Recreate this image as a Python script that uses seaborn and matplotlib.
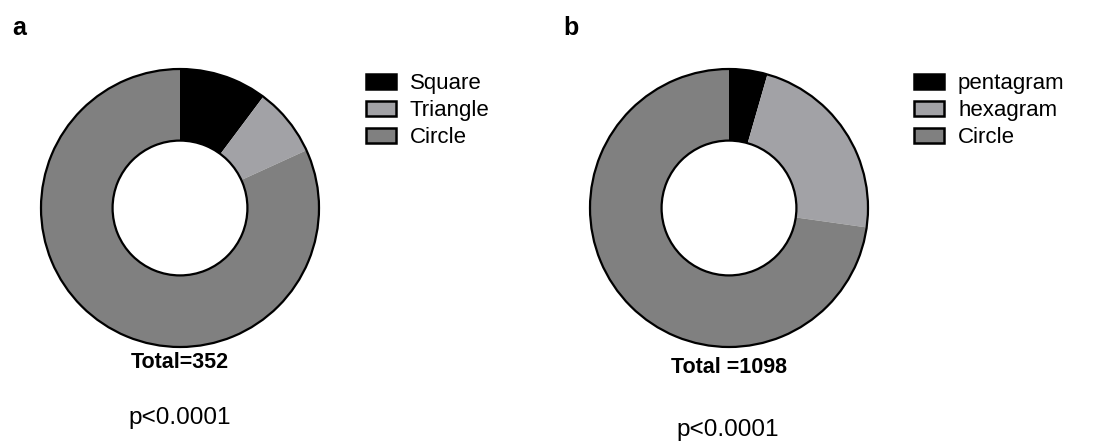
import matplotlib
matplotlib.use("Agg")
import matplotlib.pyplot as plt
from matplotlib.patches import Patch
import seaborn as sns

sns.set_theme(style="white")
plt.rcParams['font.family'] = ['Liberation Sans', 'DejaVu Sans']
plt.rcParams['text.color'] = 'black'

# ---- data ----
labels_a = ["Square", "Triangle", "Circle"]
values_a = [36, 28, 288]
labels_b = ["pentagram", "hexagram", "Circle"]
values_b = [49, 250, 799]
colors = ["#000000", "#a2a2a6", "#808080"]
total_a_text = "Total=352"
total_b_text = "Total =1098"
p_text = "p<0.0001"

W, H = 1093, 444
fig = plt.figure(figsize=(W / 100, H / 100), dpi=100)

R = 139.0
LIM = 1.03
INNER = 0.485


def donut(cx, cy, values, labels, leg_x, leg_y):
    half = R * LIM
    ax = fig.add_axes([(cx - half) / W, (H - cy - half) / H, 2 * half / W, 2 * half / H])
    ax.pie(values, colors=colors, startangle=90, counterclock=False,
           wedgeprops=dict(width=1 - INNER, edgecolor='none', linewidth=0))
    ax.pie([1], colors=['none'], startangle=90, counterclock=False,
           wedgeprops=dict(width=1 - INNER, facecolor='none', edgecolor='black', linewidth=1.6))
    ax.set_xlim(-LIM, LIM)
    ax.set_ylim(-LIM, LIM)
    ax.set_aspect('equal')
    ax.axis('off')
    handles = [Patch(facecolor=c, edgecolor='black', linewidth=1.8) for c in colors]
    leg = fig.legend(handles, labels, loc='upper left', bbox_to_anchor=(leg_x / W, 1 - leg_y / H),
                     frameon=False, fontsize=16, borderpad=0, borderaxespad=0,
                     handlelength=1.36, handleheight=0.68, handletextpad=0.62, labelspacing=0.27)
    for t in leg.get_texts():
        t.set_color('black')
    return ax


donut(180, 208, values_a, labels_a, 366, 73)
donut(729, 208, values_b, labels_b, 914, 73)

fig.text(180 / W, 1 - 362 / H, total_a_text, ha='center', va='center', fontsize=15.5, fontweight='bold')
fig.text(180 / W, 1 - 418 / H, p_text, ha='center', va='center', fontsize=17.5)
fig.text(729 / W, 1 - 367 / H, total_b_text, ha='center', va='center', fontsize=15.5, fontweight='bold')
fig.text(728 / W, 1 - 430 / H, p_text, ha='center', va='center', fontsize=17.5)

fig.text(12 / W, 1 - 28 / H, "a", ha='left', va='center', fontsize=18, fontweight='bold')
fig.text(563 / W, 1 - 28 / H, "b", ha='left', va='center', fontsize=18, fontweight='bold')

fig.savefig("out.png", dpi=100, facecolor='white')
